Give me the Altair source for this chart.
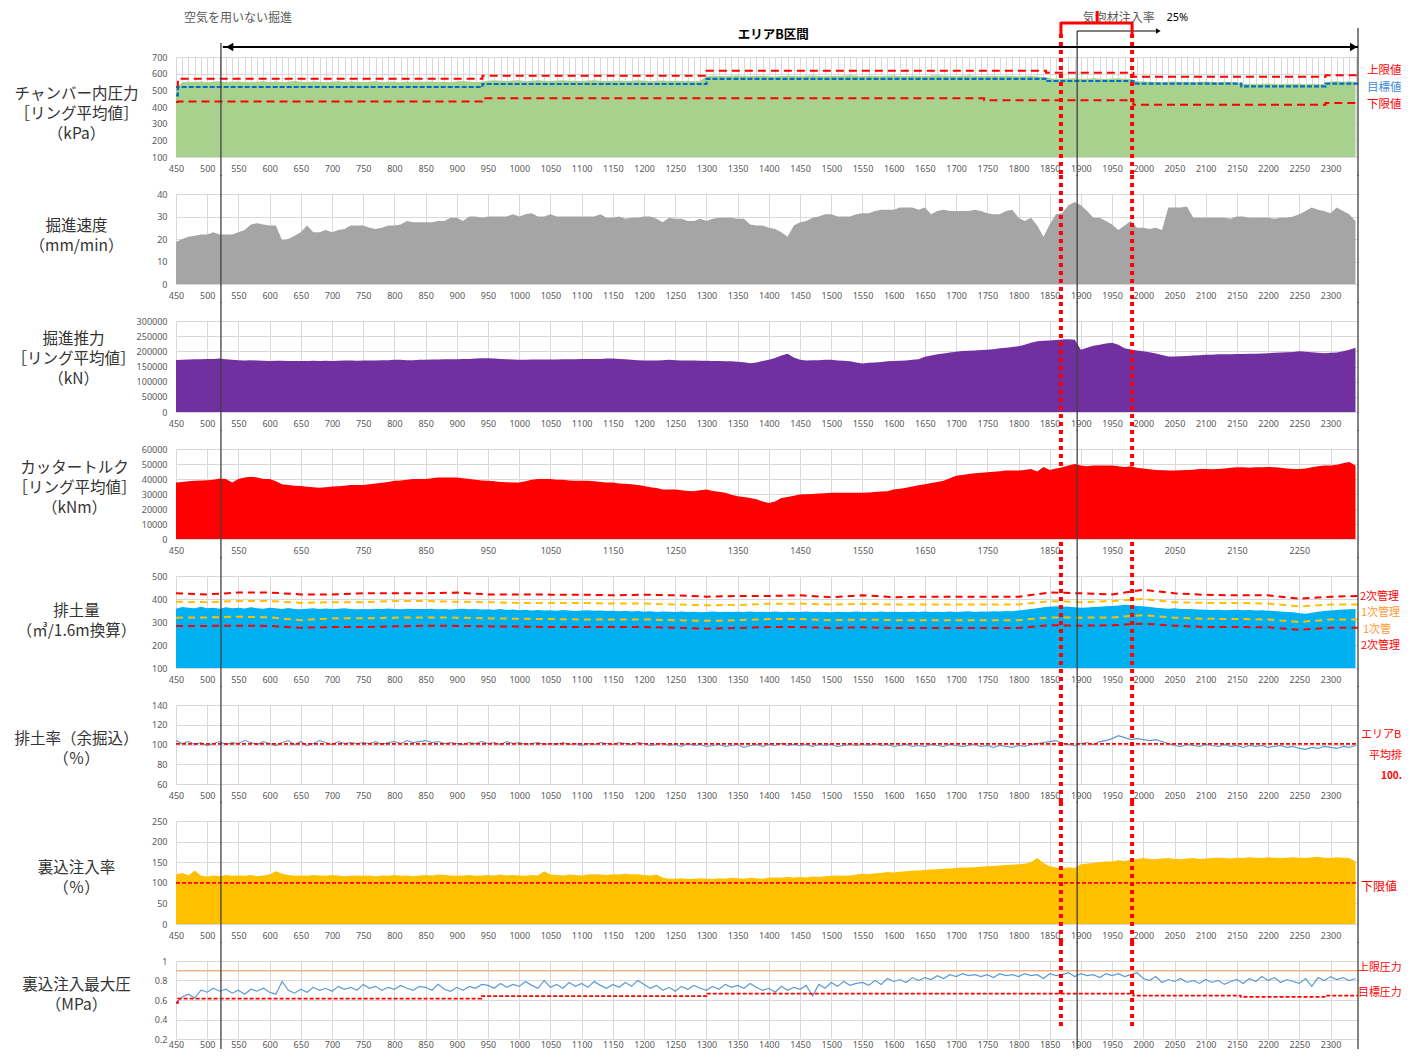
import altair as alt
import pandas as pd

# ---------------- data ----------------
RINGS = list(range(450, 2341, 10))
RINGS50 = list(range(450, 2351, 50))
X_DOMAIN = [450, 2344]

CHAMBER = [
    510, 548, 552, 550, 553, 548, 551, 554, 550, 552,
    553, 550, 548, 552, 555, 550, 553, 549, 552, 556,
    552, 550, 553, 551, 548, 552, 554, 550, 553, 551,
    549, 552, 554, 550, 552, 551, 549, 553, 550, 552,
    551, 553, 550, 552, 549, 553, 556, 552, 550, 552,
    558, 560, 557, 556, 559, 561, 555, 558, 560, 557,
    556, 559, 560, 557, 558, 556, 559, 561, 558, 556,
    557, 559, 556, 558, 560, 557, 555, 558, 559, 556,
    557, 556, 558, 555, 557, 585, 588, 586, 584, 587,
    589, 586, 584, 587, 588, 585, 583, 586, 588, 586,
    585, 587, 589, 586, 584, 587, 586, 588, 590, 587,
    585, 588, 586, 584, 587, 589, 586, 585, 588, 586,
    584, 587, 590, 588, 586, 585, 587, 589, 586, 584,
    586, 588, 585, 587, 586, 584, 585, 587, 583, 580,
    572, 570, 568, 571, 573, 569, 570, 572, 570, 568,
    571, 573, 570, 568, 555, 553, 552, 550, 548, 551,
    553, 550, 552, 549, 551, 553, 550, 548, 552, 550,
    549, 538, 540, 537, 539, 541, 538, 536, 540, 538,
    539, 537, 540, 538, 536, 553, 555, 552, 554, 550,
]
CH_UPPER_RING = [450, 453, 941, 1300, 1844, 1984, 2292, 2344]
CH_UPPER = [520, 570, 588, 617, 605, 582, 590, 590]
CH_TARGET_RING = [450, 453, 941, 1300, 1844, 1984, 2157, 2292, 2344]
CH_TARGET = [470, 520, 538, 569, 556, 540, 524, 540, 540]
CH_LOWER_RING = [450, 453, 941, 1745, 1984, 2292, 2344]
CH_LOWER = [430, 433, 452, 441, 414, 424, 424]

SPEED = [
    18.7, 20, 21, 21.5, 22, 22, 23, 22, 22, 22,
    23, 24, 26.5, 27, 26.5, 26, 26, 19.5, 20, 21.5,
    23, 26, 23, 23, 24, 23, 24, 24.5, 26, 26,
    26, 25, 24.5, 25, 26, 26, 26.5, 28, 27.5, 27.5,
    27.5, 27.5, 28, 28, 29.5, 29.5, 28, 30, 30, 29.5,
    30, 30, 30, 30, 31, 30, 31, 31.5, 30, 30,
    31, 30, 30, 30, 30, 30, 30, 30, 31, 29.5,
    29.5, 30, 29, 29.5, 29.5, 30, 30, 29, 27.5, 29.5,
    29, 29, 28, 28, 29, 28, 29, 29.5, 29.5, 29.5,
    29, 29, 26.5, 26, 26, 25, 24.5, 23, 21, 26,
    27.5, 28, 29.5, 30, 31, 31, 30, 30, 30, 31,
    31.5, 31.5, 32.5, 33, 33, 33, 34, 34, 34, 33,
    34, 31, 32.5, 33, 32.5, 32.5, 32.5, 32.5, 33, 32.5,
    31.5, 31, 31, 32.5, 33, 29.5, 28, 29.5, 26, 21,
    26.5, 31, 31.5, 35, 36.5, 35, 32.5, 29.5, 29.5, 28,
    26.5, 24, 26, 28, 25, 25, 24.5, 25, 24, 34,
    34, 34, 34.5, 29.5, 29.5, 29.5, 29.5, 29.5, 29.5, 29,
    30, 30, 29.5, 29.5, 29.5, 29.5, 29, 29.5, 29.5, 30,
    31, 32.5, 34, 33, 32.5, 31.5, 34, 32.5, 31, 28,
]

THRUST = [
    171500, 172000, 173000, 174000, 174000, 175000, 175000, 176000, 174000, 172000,
    171000, 170000, 171000, 170000, 169000, 168000, 169000, 169000, 168000, 168000,
    168000, 168000, 169000, 168000, 169000, 168000, 169000, 170000, 170000, 169000,
    170000, 170000, 170000, 171000, 171000, 172000, 172000, 171000, 171000, 172000,
    172000, 173000, 173000, 174000, 174000, 174000, 175000, 175000, 176000, 177000,
    177000, 176000, 175000, 174000, 173000, 172000, 172000, 173000, 173000, 173000,
    173000, 173000, 174000, 174000, 174000, 175000, 175000, 175000, 175000, 176000,
    176000, 175000, 174000, 172000, 171000, 170000, 170000, 170000, 171000, 172000,
    171000, 170000, 170000, 170000, 169000, 169000, 168000, 168000, 167000, 167000,
    166000, 164000, 161000, 163000, 168000, 172000, 178000, 186000, 192000, 180000,
    172000, 170000, 171000, 171000, 172000, 172000, 170000, 169000, 167000, 163000,
    160000, 162000, 163000, 165000, 167000, 168000, 169000, 170000, 172000, 174000,
    182000, 186000, 190000, 193000, 196000, 199000, 201000, 202000, 203000, 204000,
    205000, 207000, 210000, 212000, 214000, 217000, 222000, 228000, 233000, 235000,
    236000, 237000, 239000, 240000, 238000, 205000, 212000, 218000, 222000, 226000,
    228000, 222000, 210000, 206000, 203000, 200000, 197000, 193000, 188000, 183000,
    183000, 184000, 185000, 186000, 187000, 189000, 189000, 190000, 190000, 190000,
    191000, 191000, 192000, 192000, 193000, 194000, 195000, 196000, 197000, 198000,
    200000, 199000, 197000, 195000, 194000, 195000, 196000, 200000, 205000, 212000,
]

TORQUE = [
    37600, 38000, 38500, 38800, 39000, 39200, 39500, 40400, 40000, 37600,
    40000, 41000, 41500, 41000, 40000, 40000, 38500, 36500, 36000, 35500,
    35300, 34800, 34500, 34200, 34500, 35000, 35200, 35500, 36000, 36000,
    36000, 36500, 37000, 37500, 38000, 38800, 39000, 39500, 40000, 40000,
    40000, 40500, 41000, 41000, 41000, 41000, 40500, 40000, 39500, 39000,
    38800, 38500, 38000, 37800, 37600, 37600, 38500, 39500, 40000, 40000,
    40000, 39500, 39500, 39000, 38800, 38800, 38800, 38500, 38000, 37600,
    37600, 37000, 36800, 36500, 36000, 35300, 34500, 34000, 33000, 33000,
    33000, 32500, 32000, 31900, 32500, 33000, 32000, 31500, 30800, 29500,
    28500, 28000, 27400, 26500, 25000, 24000, 25000, 27400, 28000, 28800,
    29600, 29800, 30000, 30300, 30500, 30800, 30800, 30800, 30800, 30800,
    30800, 31000, 31300, 31600, 31900, 33000, 33500, 34200, 35000, 35800,
    36500, 37300, 38000, 38800, 40500, 42200, 42700, 43300, 43800, 44200,
    44500, 44800, 45200, 45600, 45600, 45600, 46000, 46700, 45000, 48000,
    46000, 47000, 47900, 49000, 50000, 49000, 48500, 49000, 49000, 49000,
    49000, 48500, 48000, 48500, 47500, 47000, 46500, 46000, 45800, 45600,
    45600, 45800, 46000, 46200, 46700, 46700, 46500, 46700, 47000, 47500,
    47900, 47900, 47500, 47900, 47900, 48000, 47900, 47500, 47000, 46700,
    46700, 47000, 47900, 48500, 49000, 49000, 49500, 50500, 51300, 49000,
]

DISCHARGE = [
    358, 365, 362, 360, 366, 360, 362, 358, 364, 360,
    362, 359, 364, 360, 358, 362, 360, 357, 361, 356,
    355, 358, 360, 357, 359, 356, 358, 360, 356, 355,
    357, 355, 358, 356, 359, 357, 355, 358, 356, 357,
    356, 358, 355, 357, 354, 356, 358, 355, 356, 354,
    355, 353, 356, 352, 354, 351, 353, 350, 352, 350,
    351, 349, 352, 350, 348, 350, 351, 349, 350, 348,
    349, 347, 349, 346, 348, 345, 347, 344, 346, 345,
    344, 346, 343, 345, 342, 344, 346, 343, 345, 344,
    345, 343, 346, 344, 345, 343, 346, 344, 345, 343,
    344, 346, 343, 345, 344, 342, 345, 343, 344, 346,
    343, 345, 344, 346, 343, 345, 344, 343, 345, 344,
    346, 344, 345, 343, 346, 344, 345, 347, 344, 346,
    345, 347, 346, 348, 347, 350, 353, 357, 360, 364,
    366, 368, 367, 366, 364, 362, 363, 365, 366, 368,
    370, 372, 375, 373, 370, 368, 365, 362, 360, 358,
    360, 357, 356, 355, 354, 353, 352, 353, 351, 352,
    353, 351, 352, 350, 351, 349, 348, 346, 344, 342,
    338, 336, 340, 345, 348, 350, 352, 354, 355, 356,
]
DIS_UPPER2 = [425, 420, 428, 428, 420, 420, 425, 425, 425, 428, 420, 420, 419, 419, 416, 419,
              416, 410, 413, 413, 416, 408, 416, 408, 410, 410, 410, 410, 428, 425, 420, 440,
              425, 418, 416, 416, 401, 410, 413]
DIS_UPPER1 = [388, 386, 391, 391, 383, 386, 386, 391, 391, 388, 386, 383, 383, 383, 380, 380,
              376, 373, 374, 379, 380, 376, 379, 376, 376, 376, 376, 376, 391, 386, 391, 400,
              386, 383, 383, 380, 368, 376, 376]
DIS_LOWER1 = [319, 320, 323, 320, 308, 316, 316, 319, 320, 319, 316, 314, 313, 311, 311, 311,
              308, 305, 308, 313, 313, 308, 311, 308, 308, 308, 308, 308, 320, 319, 320, 330,
              319, 314, 313, 311, 300, 311, 311]
DIS_LOWER2 = [283, 283, 284, 283, 275, 278, 278, 281, 284, 283, 281, 280, 278, 278, 278, 278,
              275, 271, 274, 278, 278, 274, 277, 274, 274, 274, 274, 274, 286, 284, 286, 293,
              284, 278, 278, 277, 266, 275, 275]

DISCHARGE_RATE = [
    104, 101, 103, 100, 102, 99, 101, 103, 100, 102,
    101, 104, 102, 100, 103, 101, 99, 102, 104, 100,
    103, 99, 101, 104, 102, 100, 103, 101, 102, 101,
    102, 101, 103, 100, 102, 103, 101, 104, 102, 103,
    104, 102, 103, 101, 102, 101, 100, 102, 101, 103,
    101, 102, 100, 103, 101, 102, 100, 101, 102, 100,
    101, 100, 102, 100, 101, 99, 101, 100, 102, 101,
    100, 102, 101, 100, 102, 101, 99, 100, 101, 99,
    100, 98, 101, 99, 100, 98, 99, 100, 98, 99,
    100, 97, 99, 100, 98, 100, 99, 101, 99, 100,
    99, 100, 98, 100, 99, 100, 98, 99, 100, 99,
    100, 99, 101, 99, 100, 98, 99, 100, 98, 99,
    98, 100, 99, 98, 100, 99, 98, 99, 100, 98,
    99, 97, 99, 98, 97, 99, 98, 100, 101, 102,
    103, 104, 101, 100, 99, 101, 102, 100, 103, 104,
    106, 109, 107, 105, 106, 105, 104, 105, 103, 101,
    99, 98, 100, 99, 98, 100, 99, 98, 100, 98,
    99, 97, 99, 98, 99, 97, 98, 99, 97, 98,
    96, 95, 97, 96, 98, 97, 96, 98, 97, 99,
]
RATE_AVG_RING = [450, 2344]
RATE_AVG = [100.7, 100.7]

GROUT_RATE = [
    120, 124, 118, 130, 117, 115, 118, 116, 119, 117,
    118, 117, 119, 116, 118, 120, 128, 122, 119, 117,
    118, 117, 119, 118, 117, 119, 118, 116, 117, 118,
    117, 118, 116, 118, 117, 119, 117, 118, 116, 118,
    119, 118, 120, 119, 118, 117, 118, 119, 117, 118,
    119, 118, 120, 118, 119, 118, 117, 119, 118, 128,
    120, 119, 118, 120, 119, 118, 120, 121, 120, 119,
    121, 120, 122, 120, 121, 119, 118, 120, 112, 110,
    110, 111, 109, 110, 111, 110, 109, 111, 110, 112,
    111, 110, 112, 111, 110, 112, 113, 112, 114, 113,
    114, 113, 115, 114, 116, 117, 118, 117, 118, 120,
    122, 121, 123, 124, 126, 125, 127, 128, 129, 130,
    131, 132, 133, 134, 135, 136, 137, 137, 138, 139,
    140, 141, 142, 143, 144, 145, 146, 150, 160, 148,
    140, 137, 135, 138, 136, 145, 147, 148, 150, 152,
    152, 155, 153, 156, 158, 160, 158, 157, 159, 160,
    158, 157, 159, 160, 158, 159, 160, 161, 160, 159,
    161, 160, 162, 161, 160, 162, 161, 160, 161, 162,
    161, 160, 162, 163, 161, 160, 162, 161, 160, 152,
]
GROUT_LOWER_RING = [450, 2344]
GROUT_LOWER = [100, 100]

GROUT_PRESSURE = [
    0.57, 0.63, 0.66, 0.62, 0.70, 0.68, 0.72, 0.69, 0.71, 0.67,
    0.70, 0.66, 0.71, 0.69, 0.72, 0.68, 0.66, 0.79, 0.70, 0.67,
    0.71, 0.68, 0.73, 0.70, 0.72, 0.69, 0.74, 0.71, 0.73, 0.70,
    0.76, 0.72, 0.74, 0.70, 0.73, 0.71, 0.75, 0.72, 0.70, 0.74,
    0.73, 0.70, 0.76, 0.71, 0.69, 0.73, 0.70, 0.74, 0.72, 0.76,
    0.75, 0.72, 0.77, 0.73, 0.76, 0.74, 0.79, 0.75, 0.72, 0.80,
    0.73, 0.76, 0.72, 0.78, 0.74, 0.77, 0.73, 0.79, 0.75, 0.72,
    0.76, 0.73, 0.78, 0.74, 0.80, 0.76, 0.72, 0.75, 0.70, 0.73,
    0.69, 0.74, 0.71, 0.75, 0.72, 0.70, 0.74, 0.71, 0.76, 0.73,
    0.75, 0.72, 0.77, 0.73, 0.70, 0.72, 0.68, 0.74, 0.70, 0.73,
    0.71, 0.75, 0.64, 0.76, 0.72, 0.78, 0.74, 0.79, 0.75, 0.77,
    0.78, 0.75, 0.80, 0.76, 0.82, 0.79, 0.81, 0.78, 0.83, 0.80,
    0.83, 0.81, 0.85, 0.82, 0.86, 0.84, 0.87, 0.85, 0.86, 0.84,
    0.86, 0.83, 0.87, 0.85, 0.86, 0.84, 0.87, 0.85, 0.86, 0.82,
    0.87, 0.85, 0.86, 0.88, 0.84, 0.87, 0.85, 0.86, 0.83, 0.87,
    0.85, 0.87, 0.84, 0.86, 0.88, 0.82, 0.80, 0.84, 0.78, 0.81,
    0.79, 0.82, 0.78, 0.80, 0.77, 0.81, 0.78, 0.80, 0.76, 0.79,
    0.81, 0.77, 0.82, 0.79, 0.84, 0.80, 0.83, 0.78, 0.81, 0.79,
    0.77, 0.82, 0.74, 0.83, 0.80, 0.84, 0.81, 0.83, 0.80, 0.82,
]
PRESS_UPPER_RING = [450, 2344]
PRESS_UPPER = [0.9, 0.9]
PRESS_TARGET_RING = [450, 453, 939, 1300, 1984, 2156, 2292, 2344]
PRESS_TARGET = [0.57, 0.615, 0.64, 0.665, 0.645, 0.632, 0.645, 0.645]

# annotation positions (ring numbers)
AREA_B_START = 522
AIR_FOAM_START = 1868
AIR_FOAM_END = 1982
FOAM_ARROW_START = 1894
FOAM_ARROW_END = 2024
AREA_B_END = 2344
FOAM_TICK = 1926

# ---------------- layout / style ----------------
W = 1182
SP = 37
H = [100, 90, 91, 90, 92, 79, 103, 78]
RIGHT_ROOM = 44          # px available right of the plot before the page margin
JP = "Noto Sans CJK JP"
LAB = "Noto Sans"
RED = "#FF0000"
GRID = "#D9D9D9"


def xdef(grid_step=50, label_step=50, pad=7):
    vals = list(range(450, 2344, grid_step))
    return alt.X(
        "ring:Q",
        scale=alt.Scale(domain=X_DOMAIN, nice=False, zero=False),
        axis=alt.Axis(
            values=vals, format="d", title=None, grid=True, ticks=False,
            labelPadding=pad, labelFlush=False, labelOverlap=False,
            labelExpr=f"(datum.value - 450) % {label_step} == 0 ? datum.label : ''",
        ),
    )


def ydef(domain, vals, title, title_y, fmt="d", title_x=-100):
    return alt.Y(
        "v:Q",
        scale=alt.Scale(domain=domain, nice=False, zero=False),
        axis=alt.Axis(
            values=vals, format=fmt, title=title, titleAngle=0, titleAlign="center",
            titleBaseline="middle", titleX=title_x, titleY=title_y, titleFont=JP,
            titleFontSize=15.5, titleFontWeight="normal", titleColor="#333333",
            titleLineHeight=20, grid=True, ticks=False, labelPadding=9,
        ),
    )


def df(rings, vals):
    return pd.DataFrame({"ring": rings, "v": vals})


def vlines(i, xd):
    h = H[i]
    last = i == len(H) - 1
    layers = []
    specs = []
    for ring, top in [(AREA_B_START, -14), (FOAM_ARROW_START, -26), (AREA_B_END, -29)]:
        t = top if i == 0 else -19
        b = h + 10 if last else h + 19
        specs.append((ring, t, b, dict(color="#404040", strokeWidth=1.3)))
    for ring in [AIR_FOAM_START, AIR_FOAM_END]:
        t = -23 if i == 0 else -19
        b = h - 10 if last else h + 19
        specs.append((ring, t, b, dict(color=RED, strokeWidth=4, strokeDash=[4, 4], strokeCap="butt")))
    for ring, t, b, kw in specs:
        layers.append(
            alt.Chart(pd.DataFrame({"ring": [ring]})).mark_rule(**kw).encode(
                x=xd, y=alt.value(t), y2=alt.value(b)
            )
        )
    return layers


def side_labels(items):
    out = []
    for text, dx, dy, color, size, weight in items:
        out.append(
            alt.Chart(pd.DataFrame({"t": [text]})).mark_text(
                align="left", baseline="middle", font=JP, fontSize=size,
                fontWeight=weight, color=color, limit=RIGHT_ROOM - dx, ellipsis="\u200b",
            ).encode(x=alt.value(W + dx), y=alt.value(dy), text="t:N")
        )
    return out


# ---------- panel 1: chamber pressure ----------
xd1 = xdef(10, 50)
yd1 = ydef([100, 700], list(range(100, 701, 100)), ["チャンバー内圧力", "［リング平均値］", "（kPa）"], 36)
p1 = [
    alt.Chart(df(RINGS, CHAMBER)).mark_area(color="#A9D18E", clip=True).encode(x=xd1, y=yd1),
    alt.Chart(df(CH_UPPER_RING, CH_UPPER)).mark_line(color=RED, strokeWidth=2, strokeDash=[8, 5], interpolate="step-after", clip=True).encode(x=xd1, y=yd1),
    alt.Chart(df(CH_TARGET_RING, CH_TARGET)).mark_line(color="#0070C0", strokeWidth=2.2, strokeDash=[5, 2], interpolate="step-after", clip=True).encode(x=xd1, y=yd1),
    alt.Chart(df(CH_LOWER_RING, CH_LOWER)).mark_line(color=RED, strokeWidth=2, strokeDash=[8, 5], interpolate="step-after", clip=True).encode(x=xd1, y=yd1),
] + vlines(0, xd1)

# top annotations
p1 += [
    alt.Chart(pd.DataFrame({"t": [""]})).mark_rule(color="white", strokeWidth=1).encode(
        x=alt.value(-167), x2=alt.value(-166), y=alt.value(-48)),
    alt.Chart(pd.DataFrame({"ring": [463], "t": ["空気を用いない掘進"]})).mark_text(
        align="left", baseline="middle", font=JP, fontSize=12, color="#595959").encode(
        x=xd1, y=alt.value(-39), text="t:N"),
    alt.Chart(pd.DataFrame({"ring": [AREA_B_START + 3], "ring2": [AREA_B_END]})).mark_rule(
        color="black", strokeWidth=2).encode(x=xd1, x2="ring2:Q", y=alt.value(-10)),
    alt.Chart(pd.DataFrame({"ring": [536]})).mark_point(
        shape="triangle-left", filled=True, size=70, color="black", opacity=1).encode(x=xd1, y=alt.value(-10)),
    alt.Chart(pd.DataFrame({"ring": [2337]})).mark_point(
        shape="triangle-right", filled=True, size=70, color="black", opacity=1).encode(x=xd1, y=alt.value(-10)),
    alt.Chart(pd.DataFrame({"ring": [1407], "t": ["エリアB区間"]})).mark_text(
        align="center", baseline="middle", font=JP, fontSize=12.5, fontWeight="bold", color="black").encode(
        x=xd1, y=alt.value(-22), text="t:N"),
    alt.Chart(pd.DataFrame({"ring": [FOAM_ARROW_START], "ring2": [FOAM_ARROW_END - 4]})).mark_rule(
        color="black", strokeWidth=1).encode(x=xd1, x2="ring2:Q", y=alt.value(-26)),
    alt.Chart(pd.DataFrame({"ring": [FOAM_ARROW_END]})).mark_point(
        shape="triangle-right", filled=True, size=30, color="black", opacity=1).encode(x=xd1, y=alt.value(-26)),
    alt.Chart(pd.DataFrame({"ring": [1903], "t": ["気泡材注入率"]})).mark_text(
        align="left", baseline="middle", font=JP, fontSize=12, color="#595959").encode(
        x=xd1, y=alt.value(-39), text="t:N"),
    alt.Chart(pd.DataFrame({"ring": [2037], "t": ["25%"]})).mark_text(
        align="left", baseline="middle", font=LAB, fontSize=11, color="black").encode(
        x=xd1, y=alt.value(-39), text="t:N"),
    # red bracket
    alt.Chart(pd.DataFrame({"ring": [AIR_FOAM_START], "ring2": [AIR_FOAM_END]})).mark_rule(
        color=RED, strokeWidth=3).encode(x=xd1, x2="ring2:Q", y=alt.value(-34)),
    alt.Chart(pd.DataFrame({"ring": [AIR_FOAM_START, AIR_FOAM_END]})).mark_rule(
        color=RED, strokeWidth=3).encode(x=xd1, y=alt.value(-35), y2=alt.value(-23)),
    alt.Chart(pd.DataFrame({"ring": [FOAM_TICK]})).mark_rule(
        color=RED, strokeWidth=3).encode(x=xd1, y=alt.value(-46), y2=alt.value(-34)),
]
p1 += side_labels([
    ("上限値", 9, 14, RED, 11.5, "normal"),
    ("目標値", 9, 31, "#3C8DD8", 11.5, "normal"),
    ("下限値", 9, 48, RED, 11.5, "normal"),
])

# ---------- panel 2: speed ----------
xd2 = xdef()
yd2 = ydef([0, 40], [0, 10, 20, 30, 40], ["掘進速度", "（mm/min）"], 31)
p2 = [alt.Chart(df(RINGS, SPEED)).mark_area(color="#A5A5A5", clip=True).encode(x=xd2, y=yd2)] + vlines(1, xd2)

# ---------- panel 3: thrust ----------
xd3 = xdef()
yd3 = ydef([0, 300000], list(range(0, 300001, 50000)), ["掘進推力", "［リング平均値］", "（kN）"], 17, title_x=-103)
p3 = [alt.Chart(df(RINGS, THRUST)).mark_area(color="#7030A0", clip=True).encode(x=xd3, y=yd3)] + vlines(2, xd3)

# ---------- panel 4: torque ----------
xd4 = xdef(50, 100)
yd4 = ydef([0, 60000], list(range(0, 60001, 10000)), ["カッタートルク", "［リング平均値］", "（kNm）"], 18, title_x=-102)
p4 = [alt.Chart(df(RINGS, TORQUE)).mark_area(color="#FF0000", clip=True).encode(x=xd4, y=yd4)] + vlines(3, xd4)

# ---------- panel 5: discharge ----------
xd5 = xdef()
yd5 = ydef([100, 500], list(range(100, 501, 100)), ["排土量", "（㎥/1.6m換算）"], 34.5)
p5 = [alt.Chart(df(RINGS, DISCHARGE)).mark_area(color="#00B0F0", clip=True).encode(x=xd5, y=yd5)]
for vals, col in [(DIS_UPPER2, RED), (DIS_UPPER1, "#FFC000"), (DIS_LOWER1, "#FFC000"), (DIS_LOWER2, RED)]:
    p5.append(alt.Chart(df(RINGS50, vals)).mark_line(color=col, strokeWidth=2, strokeDash=[7, 5], clip=True).encode(x=xd5, y=yd5))
p5 += vlines(4, xd5)
p5 += side_labels([
    ("2次管理値", 2, 21, RED, 11, "normal"),
    ("1次管理値", 3, 37, "#FF9933", 11, "normal"),
    ("1次管理値", 5, 54, "#FF9933", 11, "normal"),
    ("2次管理値", 3, 70, RED, 11, "normal"),
])

# ---------- panel 6: discharge rate ----------
xd6 = xdef()
yd6 = ydef([60, 140], [60, 80, 100, 120, 140], ["排土率（余掘込）", "（％）"], 33.5)
p6 = [
    alt.Chart(df(RINGS, DISCHARGE_RATE)).mark_line(color="#5B9BD5", strokeWidth=1.2, clip=True).encode(x=xd6, y=yd6),
    alt.Chart(df(RATE_AVG_RING, RATE_AVG)).mark_line(color=RED, strokeWidth=1.8, strokeDash=[4, 2], clip=True).encode(x=xd6, y=yd6),
] + vlines(5, xd6)
p6 += side_labels([
    ("エリアB区間", 3, 30, RED, 11, "normal"),
    ("平均排土率", 11, 51, RED, 11, "normal"),
    ("100.7%", 23, 71, RED, 10, "bold"),
])

# ---------- panel 7: grout rate ----------
xd7 = xdef()
yd7 = ydef([0, 250], [0, 50, 100, 150, 200, 250], ["裏込注入率", "（％）"], 46)
p7 = [
    alt.Chart(df(RINGS, GROUT_RATE)).mark_area(color="#FFC000", clip=True).encode(x=xd7, y=yd7),
    alt.Chart(df(GROUT_LOWER_RING, GROUT_LOWER)).mark_line(color=RED, strokeWidth=1.8, strokeDash=[4, 2], clip=True).encode(x=xd7, y=yd7),
] + vlines(6, xd7)
p7 += side_labels([("下限値", 3, 66, RED, 12, "normal")])

# ---------- panel 8: grout max pressure ----------
xd8 = xdef(pad=1)
yd8 = ydef([0.2, 1.0], [0.2, 0.4, 0.6, 0.8, 1.0], ["裏込注入最大圧", "（MPa）"], 23.5, fmt=".1~f")
p8 = [
    alt.Chart(df(PRESS_UPPER_RING, PRESS_UPPER)).mark_line(color="#F4B183", strokeWidth=1.5, clip=True).encode(x=xd8, y=yd8),
    alt.Chart(df(RINGS, GROUT_PRESSURE)).mark_line(color="#5B9BD5", strokeWidth=1.2, clip=True).encode(x=xd8, y=yd8),
    alt.Chart(df(PRESS_TARGET_RING, PRESS_TARGET)).mark_line(color=RED, strokeWidth=1.8, strokeDash=[4, 2], interpolate="step-after", clip=True).encode(x=xd8, y=yd8),
] + vlines(7, xd8)
p8 += side_labels([
    ("上限圧力", 0, 7, RED, 10.9, "normal"),
    ("目標圧力", 0, 32, RED, 10.9, "normal"),
])

panels = []
for i, layers in enumerate([p1, p2, p3, p4, p5, p6, p7, p8]):
    panels.append(alt.layer(*layers).properties(width=W, height=H[i]))

chart = (
    alt.vconcat(*panels, spacing=SP, bounds="flush")
    .properties(padding=0)
    .configure_view(stroke=None)
    .configure_axis(
        gridColor=GRID, domainColor=GRID, labelColor="#595959", labelFont=LAB,
        labelFontSize=9, ticks=False,
    )
)

chart.save("out.html", embed_options={"renderer": "svg", "actions": False})
